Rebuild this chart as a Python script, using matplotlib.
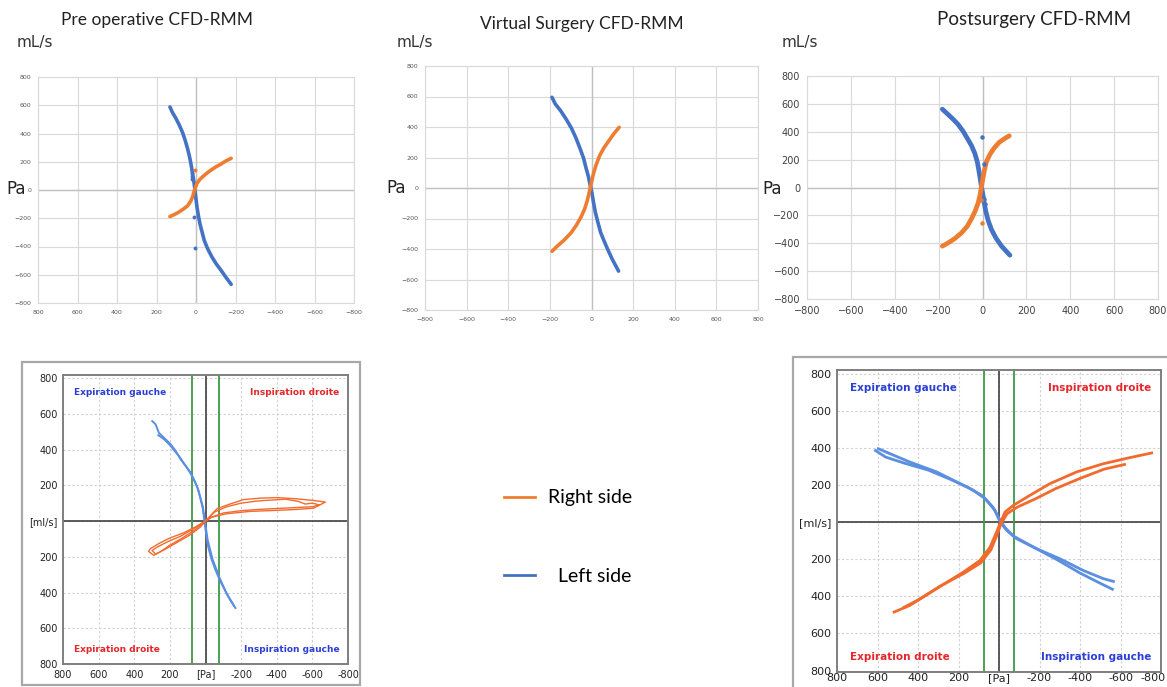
import matplotlib
matplotlib.use("Agg")
import matplotlib.pyplot as plt
import matplotlib.transforms as mtransforms
from matplotlib.lines import Line2D
from matplotlib.patches import Rectangle

W, H = 1167, 687

# ---- CFD-RMM simulations (pressure Pa, flow mL/s) ----
pre_left_pa = [132, 119, 102, 85, 68, 54, 42, 32, 24, 17, 10, 5, 0, -5, -12, -20,
               -31, -42, -59, -81, -102, -127, -153, -178]
pre_left_q = [588, 548, 508, 461, 407, 348, 289, 231, 172, 113, 54, -5, -64, -122,
              -181, -240, -299, -358, -416, -475, -522, -569, -621, -668]
pre_right_pa = [132, 110, 85, 63, 42, 27, 17, 10, 3, -5, -17, -34, -54, -76, -102,
                -127, -153, -178]
pre_right_q = [-188, -174, -155, -134, -111, -80, -47, -12, 19, 47, 71, 94, 118, 141,
               165, 184, 207, 224]
pre_stray_left_pa = [8, 5, 20, 18, 22]
pre_stray_left_q = [-193, -412, 100, 120, 80]
pre_stray_right_pa = [5]
pre_stray_right_q = [141]

virt_left_pa = [-190, -174, -149, -123, -97, -75, -55, -38, -26, -15, -7, 2, 10, 19,
                31, 44, 60, 77, 99, 130]
virt_left_q = [595, 551, 508, 454, 394, 329, 259, 195, 130, 76, 22, -32, -97, -162,
               -227, -292, -346, -400, -465, -545]
virt_right_pa = [-190, -166, -132, -97, -72, -50, -32, -19, -9, 0, 10, 22, 39, 60,
                 82, 108, 133]
virt_right_q = [-415, -383, -342, -292, -242, -190, -134, -76, -17, 39, 97, 151, 212,
                264, 307, 357, 398]

post_left_pa = [-183, -157, -134, -111, -89, -69, -50, -35, -24, -17, -11, -5, 2, 8,
                15, 26, 41, 61, 87, 125]
post_left_q = [562, 524, 490, 452, 405, 352, 300, 245, 186, 126, 67, 7, -52, -112,
               -171, -238, -302, -362, -421, -486]
post_right_pa = [-183, -157, -127, -96, -70, -50, -34, -20, -11, -5, 2, 9, 18, 34,
                 52, 76, 102, 122]
post_right_q = [-421, -398, -367, -326, -279, -224, -171, -112, -52, 7, 67, 126, 186,
                238, 281, 324, 352, 371]
post_stray_left_pa = [-3, 5, 8, 10]
post_stray_left_q = [364, 170, -80, -120]
post_stray_right_pa = [-3, -8]
post_stray_right_q = [-255, -90]

# ---- measured rhinomanometry loops ----
mes_pre_left = [
    ([299, 280, 262, 234, 196, 168, 140, 112, 84, 62, 43, 28, 15, 6, -2, -13, -32,
      -56, -84, -118, -168],
     [559, 541, 494, 467, 430, 393, 346, 309, 272, 226, 180, 124, 69, 0, -61, -135,
      -209, -274, -339, -404, -487]),
    ([265, 250, 230, 200, 180, 150, 130, 105, 80, 60, 42, 15, 2, -12, -40, -80, -125,
      -160],
     [480, 470, 455, 425, 400, 365, 335, 300, 260, 220, 180, 80, -10, -105, -215,
      -320, -420, -475]),
]
mes_pre_right = [
    ([0, -65, -140, -215, -308, -402, -514, -607, -673, -607, -514, -383, -252, -121,
      -37, 0],
     [0, 69, 96, 120, 128, 131, 124, 115, 106, 72, 65, 59, 54, 41, 22, 0]),
    ([0, -50, -120, -200, -290, -380, -450, -520, -560, -600, -640, -600, -500, -400,
      -300, -200, -100, -30, 0],
     [0, 50, 80, 100, 112, 118, 122, 110, 95, 100, 90, 80, 75, 70, 65, 58, 45, 20, 0]),
    ([0, 60, 120, 200, 260, 310, 320, 290, 250, 200, 130, 60, 0],
     [0, -35, -65, -95, -125, -155, -170, -192, -170, -135, -95, -50, 0]),
    ([0, 70, 140, 210, 270, 300, 280, 230, 160, 90, 30, 0],
     [0, -45, -85, -115, -145, -165, -185, -160, -120, -80, -35, 0]),
]
mes_post_left = [
    ([596, 538, 440, 308, 209, 127, 69, 20, -5, -38, -87, -186, -301, -416, -515,
      -565],
     [395, 368, 323, 270, 216, 171, 126, 63, 0, -45, -90, -144, -198, -261, -305,
      -320]),
    ([610, 560, 470, 350, 240, 150, 80, 30, 0, -30, -70, -170, -290, -400, -500,
      -560],
     [385, 350, 318, 280, 230, 185, 140, 80, 20, -30, -75, -135, -205, -275, -330,
      -362]),
]
mes_post_right = [
    ([518, 440, 308, 176, 94, 44, 12, -8, -30, -71, -153, -252, -384, -515, -647,
      -754],
     [-485, -449, -359, -270, -207, -135, -54, 0, 54, 90, 144, 207, 270, 314, 347,
      372]),
    ([470, 400, 290, 170, 90, 40, 10, -10, -40, -90, -180, -280, -400, -520, -620],
     [-460, -420, -345, -275, -220, -150, -70, -10, 45, 80, 125, 180, 235, 285, 310]),
]

ticks = [800, 600, 400, 200, 0, -200, -400, -600, -800]
y_labels_mes = ['800', '600', '400', '200', '[ml/s]', '200', '400', '600', '800']
x_labels_mes = ['800', '600', '400', '200', '[Pa]', '-200', '-400', '-600', '-800']

ORANGE = '#ED7D31'
BLUE = '#4472C4'
M_ORANGE = '#F26B2E'
M_BLUE = '#5B8FE0'
Q_BLUE = '#2B3FD6'
Q_RED = '#E5262B'
GREEN = '#3C9A46'

fig = plt.figure(figsize=(W / 100, H / 100), dpi=100)


def rect(left, top, right, bottom):
    return [left / W, 1 - bottom / H, (right - left) / W, (bottom - top) / H]


def cfd_axes(box, inverted, size, color):
    ax = fig.add_axes(rect(*box))
    ax.set_xlim((800, -800) if inverted else (-800, 800))
    ax.set_ylim(-800, 800)
    ax.set_xticks(ticks)
    ax.set_yticks(ticks)
    ax.grid(True, color='#d9d9d9', lw=0.8)
    ax.axhline(0, color='#c0c0c0', lw=1.0)
    ax.axvline(0, color='#c0c0c0', lw=1.0)
    for s in ax.spines.values():
        s.set_color('#d9d9d9')
        s.set_linewidth(0.8)
    ax.tick_params(length=0, labelsize=size, labelcolor=color, pad=5)
    ax.set_axisbelow(True)
    return ax


ax1 = cfd_axes((38, 77, 354, 303), True, 4.5, '#595959')
ax1.plot(pre_left_pa, pre_left_q, color=BLUE, lw=2.6, solid_capstyle='round')
ax1.plot(pre_right_pa, pre_right_q, color=ORANGE, lw=2.6, solid_capstyle='round')
ax1.plot(pre_stray_left_pa, pre_stray_left_q, 'o', color=BLUE, ms=1.8)
ax1.plot(pre_stray_right_pa, pre_stray_right_q, 'o', color=ORANGE, ms=1.8)

ax2 = cfd_axes((425, 66, 758, 310), False, 4.5, '#595959')
ax2.plot(virt_left_pa, virt_left_q, color=BLUE, lw=2.6, solid_capstyle='round')
ax2.plot(virt_right_pa, virt_right_q, color=ORANGE, lw=2.6, solid_capstyle='round')

ax3 = cfd_axes((807, 76, 1158, 299), False, 7, '#404040')
ax3.plot(post_left_pa, post_left_q, color=BLUE, lw=3.4, solid_capstyle='round')
ax3.plot(post_right_pa, post_right_q, color=ORANGE, lw=3.4, solid_capstyle='round')
ax3.plot(post_stray_left_pa, post_stray_left_q, 'o', color=BLUE, ms=2.2)
ax3.plot(post_stray_right_pa, post_stray_right_q, 'o', color=ORANGE, ms=2.2)

fig.text(157 / W, 1 - 20 / H, 'Pre operative CFD-RMM', family='Lato', fontsize=12.5,
         ha='center', va='center', color='#222222')
fig.text(582 / W, 1 - 24 / H, 'Virtual Surgery CFD-RMM', family='Lato', fontsize=12.5,
         ha='center', va='center', color='#222222')
fig.text(1034 / W, 1 - 20 / H, 'Postsurgery CFD-RMM', family='Lato', fontsize=13.5,
         ha='center', va='center', color='#222222')
for x in (17, 397, 782):
    fig.text(x / W, 1 - 43 / H, 'mL/s', fontsize=11, va='center', color='#333333')
for x, y in ((6, 189), (386, 188), (762, 189)):
    fig.text(x / W, 1 - y / H, 'Pa', fontsize=12, va='center', color='#222222')


# ---- measured panels ----
def mes_axes(frame, box, ylim, size, xpad):
    fig.patches.append(Rectangle((frame[0] / W, 1 - frame[3] / H),
                                 (frame[2] - frame[0]) / W, (frame[3] - frame[1]) / H,
                                 transform=fig.transFigure, fill=False,
                                 edgecolor='#a8a8a8', lw=1.6))
    ax = fig.add_axes(rect(*box))
    ax.set_xlim(800, -800)
    ax.set_ylim(*ylim)
    ax.set_xticks(ticks)
    ax.set_xticklabels(x_labels_mes)
    ax.set_yticks(ticks)
    ax.set_yticklabels(y_labels_mes)
    ax.grid(True, color='#d0d0d0', lw=0.8, ls=(0, (2, 2)))
    for s in ax.spines.values():
        s.set_color('#7f7f7f')
        s.set_linewidth(1.4)
    ax.tick_params(length=0, labelsize=size, labelcolor='#222222', pad=4)
    ax.tick_params(axis='x', pad=xpad)
    ax.axhline(0, color='#404040', lw=1.2)
    ax.axvline(0, color='#404040', lw=1.2)
    ax.axvline(75, color=GREEN, lw=1.3)
    ax.axvline(-75, color=GREEN, lw=1.3)
    ax.set_axisbelow(True)
    return ax


def quadrant_text(ax, size):
    kw = dict(transform=ax.transAxes, fontsize=size, fontweight='bold', va='center')
    ax.text(0.04, 0.94, 'Expiration gauche', color=Q_BLUE, ha='left', **kw)
    ax.text(0.97, 0.94, 'Inspiration droite', color=Q_RED, ha='right', **kw)
    ax.text(0.04, 0.05, 'Expiration droite', color=Q_RED, ha='left', **kw)
    ax.text(0.97, 0.05, 'Inspiration gauche', color=Q_BLUE, ha='right', **kw)


ax4 = mes_axes((22, 362, 360, 685), (63, 375, 348, 664), (-800, 817), 7, 4)
for p, q in mes_pre_left:
    ax4.plot(p, q, color=M_BLUE, lw=1.4)
for p, q in mes_pre_right:
    ax4.plot(p, q, color=M_ORANGE, lw=1.0)
quadrant_text(ax4, 6.5)

ax5 = mes_axes((793, 357, 1175, 695), (837, 370, 1161, 672), (-808, 819), 8, 1)
for p, q in mes_post_left:
    ax5.plot(p, q, color=M_BLUE, lw=2.0)
for p, q in mes_post_right:
    ax5.plot(p, q, color=M_ORANGE, lw=2.0)
quadrant_text(ax5, 7.5)
# keep the last x label inside the picture edge
fig.canvas.draw()
last = ax5.get_xticklabels()[-1]
last.set_ha('right')
last.set_transform(last.get_transform() +
                   mtransforms.ScaledTranslation(5 / 100, 0, fig.dpi_scale_trans))

# ---- legend ----
handles = [Line2D([], [], color=ORANGE, lw=2),
           Line2D([], [], color=BLUE, lw=2)]
fig.legend(handles, ['Right side', '  Left side'], loc='center',
           bbox_to_anchor=(568 / W, 1 - 537 / H), frameon=False,
           prop={'family': 'Lato', 'size': 14}, handlelength=1.6,
           handletextpad=0.7, labelspacing=3.15)

fig.savefig('out.png', dpi=100)
